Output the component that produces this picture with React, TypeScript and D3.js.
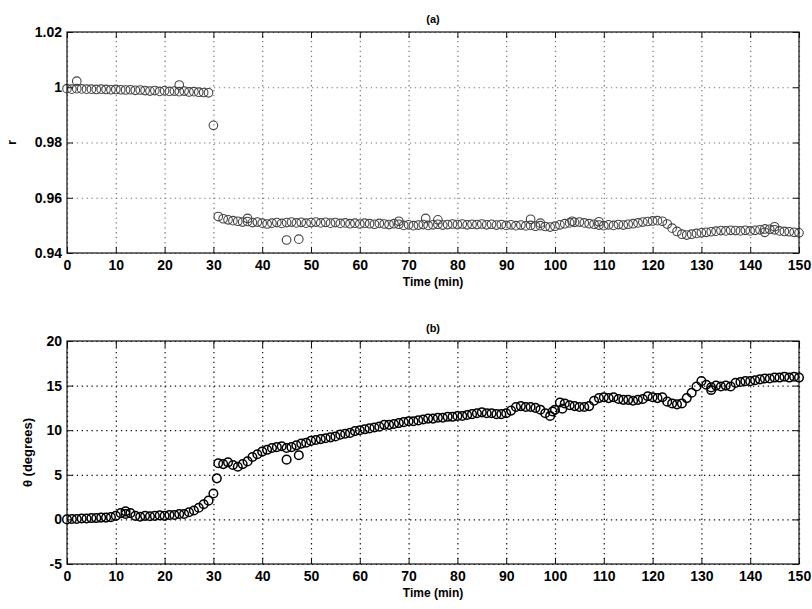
import { useEffect, useRef } from 'react'
import * as d3 from 'd3'

// sampling: one reading per minute, t = 0..150
const T_START = 0
const T_STEP = 1

const rValues = [
  0.9995, 0.9993, 0.9995, 0.9994, 0.9993, 0.9993, 0.9992, 0.9993, 0.9992, 0.9991,
  0.9992, 0.9991, 0.999, 0.9991, 0.9989, 0.999, 0.9988, 0.9986, 0.9988, 0.9985,
  0.9987, 0.9985, 0.9986, 0.9984, 0.9986, 0.9983, 0.9984, 0.9982, 0.9981, 0.998,
  0.9862,
  0.9532, 0.9524, 0.952, 0.9517, 0.9515, 0.9512, 0.9514, 0.951, 0.9512, 0.9508,
  0.9505, 0.9508, 0.951, 0.9507, 0.951, 0.9512, 0.9509, 0.9511, 0.9508, 0.951,
  0.9512, 0.9509, 0.9511, 0.9508, 0.951, 0.9507, 0.9509, 0.9506, 0.9508, 0.9505,
  0.9508, 0.9506, 0.9504, 0.9507, 0.9505, 0.9503, 0.9506, 0.9504, 0.95, 0.9502,
  0.9499, 0.9501, 0.9503, 0.95, 0.9502, 0.9504, 0.9501, 0.9503, 0.9505, 0.9503,
  0.9505, 0.9502, 0.9504, 0.9503, 0.9505, 0.9502, 0.9504, 0.9501, 0.9503, 0.95,
  0.9502, 0.9499, 0.9501, 0.9498, 0.95, 0.9497, 0.9499, 0.9496, 0.9494, 0.9497,
  0.9502, 0.9506, 0.9509, 0.9511, 0.9512, 0.9509, 0.9506, 0.9504, 0.9501, 0.9499,
  0.9502, 0.95, 0.9503, 0.9501, 0.9504, 0.9506, 0.9509, 0.9512, 0.9514, 0.9516,
  0.9517, 0.9515, 0.9505, 0.949, 0.9478, 0.9468, 0.9465, 0.9468, 0.9471, 0.9473,
  0.9475, 0.9477, 0.9479, 0.9481, 0.948, 0.9482, 0.9481, 0.948, 0.9482, 0.948,
  0.9482, 0.9484, 0.9487, 0.9486, 0.9484, 0.948, 0.9478, 0.9477, 0.9475, 0.9473,
]

// extra readings that stand out from the trace: [time, r]
const rStray: [number, number][] = [
  [2, 1.0022], [23, 1.0008], [37, 0.9525], [45, 0.9447], [47.5, 0.945],
  [68, 0.9515], [73.5, 0.9525], [76, 0.952], [95, 0.9522], [97, 0.9508],
  [103.5, 0.9515], [109, 0.9513], [143, 0.9475], [145, 0.9495],
]

const thetaValues = [
  0.0, 0.05, 0.05, 0.1, 0.1, 0.15, 0.15, 0.2, 0.2, 0.25,
  0.4, 0.7, 0.6, 0.7, 0.4, 0.3, 0.4, 0.35, 0.4, 0.45,
  0.4, 0.5, 0.5, 0.6, 0.6, 0.8, 1.0, 1.3, 1.7, 2.1,
  2.9,
  6.3, 6.2, 6.4, 6.1, 5.9, 6.2, 6.5, 7.0, 7.3, 7.6,
  7.8, 8.0, 8.1, 8.2, 8.0, 8.1, 8.3, 8.5, 8.6, 8.8,
  8.9, 9.0, 9.1, 9.2, 9.3, 9.5, 9.6, 9.7, 9.9, 10.0,
  10.1, 10.2, 10.3, 10.4, 10.6, 10.6, 10.7, 10.8, 10.9, 11.0,
  11.0, 11.1, 11.2, 11.3, 11.3, 11.4, 11.4, 11.5, 11.5, 11.6,
  11.6, 11.7, 11.8, 11.9, 12.0, 11.9, 11.9, 11.8, 11.8, 11.9,
  12.2, 12.6, 12.7, 12.6, 12.6, 12.5, 12.3, 11.9, 11.6, 12.3,
  13.1, 13.0, 12.8, 12.7, 12.6, 12.6, 12.7, 13.3, 13.6, 13.7,
  13.6, 13.7, 13.5, 13.4, 13.4, 13.3, 13.4, 13.5, 13.8, 13.7,
  13.6, 13.7, 13.2, 13.0, 12.9, 13.0, 13.6, 14.2, 14.9, 15.5,
  15.1, 14.8, 15.0, 14.9, 15.0, 14.9, 15.3, 15.4, 15.5, 15.5,
  15.6, 15.7, 15.8, 15.8, 15.9, 15.9, 16.0, 15.9, 16.0, 15.9,
]

const thetaStray: [number, number][] = [
  [12, 0.9], [30.7, 4.6], [45, 6.7], [47.5, 7.2], [99.5, 12.1], [101.5, 12.4], [132, 14.5],
]

const xTicks = [0, 10, 20, 30, 40, 50, 60, 70, 80, 90, 100, 110, 120, 130, 140, 150]
const rTicks = [0.94, 0.96, 0.98, 1, 1.02]
const thetaTicks = [-5, 0, 5, 10, 15, 20]

const W = 812
const H = 609
const FONT = 'Liberation Sans, Arial, Helvetica, sans-serif'

type Panel = {
  title: string
  yLabel: string
  labelX: number
  values: number[]
  stray: [number, number][]
  yDomain: [number, number]
  yTicks: number[]
  top: number
  bottom: number
  ink: string
  markStroke: number
  gridInk: string
}

export default function App() {
  const svgRef = useRef<SVGSVGElement>(null)

  useEffect(() => {
    const svg = d3.select(svgRef.current)
    svg.selectAll('*').remove()

    const left = 67
    const right = 799

    const x = d3.scaleLinear().domain([0, 150]).range([left, right])

    const panels: Panel[] = [
      {
        title: '(a)', yLabel: 'r', labelX: 16, values: rValues, stray: rStray,
        yDomain: [0.94, 1.02], yTicks: rTicks, top: 32, bottom: 253,
        ink: '#444', markStroke: 1.1, gridInk: '#777',
      },
      {
        title: '(b)', yLabel: 'θ (degrees)', labelX: 32, values: thetaValues, stray: thetaStray,
        yDomain: [-5, 20], yTicks: thetaTicks, top: 341, bottom: 564,
        ink: '#000', markStroke: 1.5, gridInk: '#111',
      },
    ]

    panels.forEach((p) => {
      const y = d3.scaleLinear().domain(p.yDomain).range([p.bottom, p.top])
      const g = svg.append('g')

      // dotted grid
      g.append('g')
        .attr('transform', `translate(0,${p.bottom})`)
        .call(d3.axisBottom(x).tickValues(xTicks).tickSize(-(p.bottom - p.top)).tickFormat(() => ''))
        .call((s) => s.select('.domain').remove())
        .call((s) => s.selectAll('.tick line')
          .attr('stroke', p.gridInk).attr('stroke-width', 1.2).attr('stroke-dasharray', '1.3,3.6'))

      g.append('g')
        .attr('transform', `translate(${left},0)`)
        .call(d3.axisLeft(y).tickValues(p.yTicks).tickSize(-(right - left)).tickFormat(() => ''))
        .call((s) => s.select('.domain').remove())
        .call((s) => s.selectAll('.tick line')
          .attr('stroke', p.gridInk).attr('stroke-width', 1.2).attr('stroke-dasharray', '1.3,3.6'))

      // markers
      const pts: [number, number][] = p.values.map((v, i) => [T_START + i * T_STEP, v])
      const all = pts.concat(p.stray)
      g.append('g')
        .selectAll('circle')
        .data(all)
        .join('circle')
        .attr('cx', (d) => x(d[0]))
        .attr('cy', (d) => y(d[1]))
        .attr('r', 4.3)
        .attr('fill', 'none')
        .attr('stroke', p.ink)
        .attr('stroke-width', p.markStroke)

      // box and inward ticks (all four sides)
      const tickLen = 6
      const axisStyle = (s: d3.Selection<SVGGElement, unknown, null, undefined>) => {
        s.select('.domain').remove()
        s.selectAll('.tick line').attr('stroke', '#111').attr('stroke-width', 1)
      }
      g.append('g')
        .attr('transform', `translate(0,${p.bottom})`)
        .call(d3.axisBottom(x).tickValues(xTicks).tickSize(-tickLen).tickPadding(7).tickFormat(d3.format('d')))
        .call(axisStyle)
        .call((s) => s.selectAll('text')
          .attr('fill', '#000').attr('font-size', 14).attr('font-weight', 'bold').attr('font-family', FONT))
      g.append('g')
        .attr('transform', `translate(0,${p.top})`)
        .call(d3.axisTop(x).tickValues(xTicks).tickSize(-tickLen).tickFormat(() => ''))
        .call(axisStyle)
      g.append('g')
        .attr('transform', `translate(${left},0)`)
        .call(d3.axisLeft(y).tickValues(p.yTicks).tickSize(-tickLen).tickPadding(5).tickFormat((d) => String(d)))
        .call(axisStyle)
        .call((s) => s.selectAll('text')
          .attr('fill', '#000').attr('font-size', 14).attr('font-weight', 'bold').attr('font-family', FONT))
      g.append('g')
        .attr('transform', `translate(${right},0)`)
        .call(d3.axisRight(y).tickValues(p.yTicks).tickSize(-tickLen).tickFormat(() => ''))
        .call(axisStyle)

      g.append('rect')
        .attr('x', left).attr('y', p.top)
        .attr('width', right - left).attr('height', p.bottom - p.top)
        .attr('fill', 'none').attr('stroke', '#111').attr('stroke-width', 1.2)

      // labels
      g.append('text')
        .attr('x', (left + right) / 2).attr('y', p.top - 9)
        .attr('text-anchor', 'middle')
        .attr('font-family', FONT).attr('font-size', 11).attr('font-weight', 'bold')
        .text(p.title)

      g.append('text')
        .attr('x', (left + right) / 2).attr('y', p.bottom + 33)
        .attr('text-anchor', 'middle')
        .attr('font-family', FONT).attr('font-size', 12).attr('font-weight', 'bold')
        .text('Time (min)')

      g.append('text')
        .attr('transform', `translate(${p.labelX},${(p.top + p.bottom) / 2}) rotate(-90)`)
        .attr('text-anchor', 'middle')
        .attr('font-family', FONT).attr('font-size', 13).attr('font-weight', 'bold')
        .text(p.yLabel)
    })
  }, [])

  return (
    <svg
      ref={svgRef}
      width={W}
      height={H}
      style={{ position: 'absolute', left: 0, top: 0, background: '#fff' }}
    />
  )
}
